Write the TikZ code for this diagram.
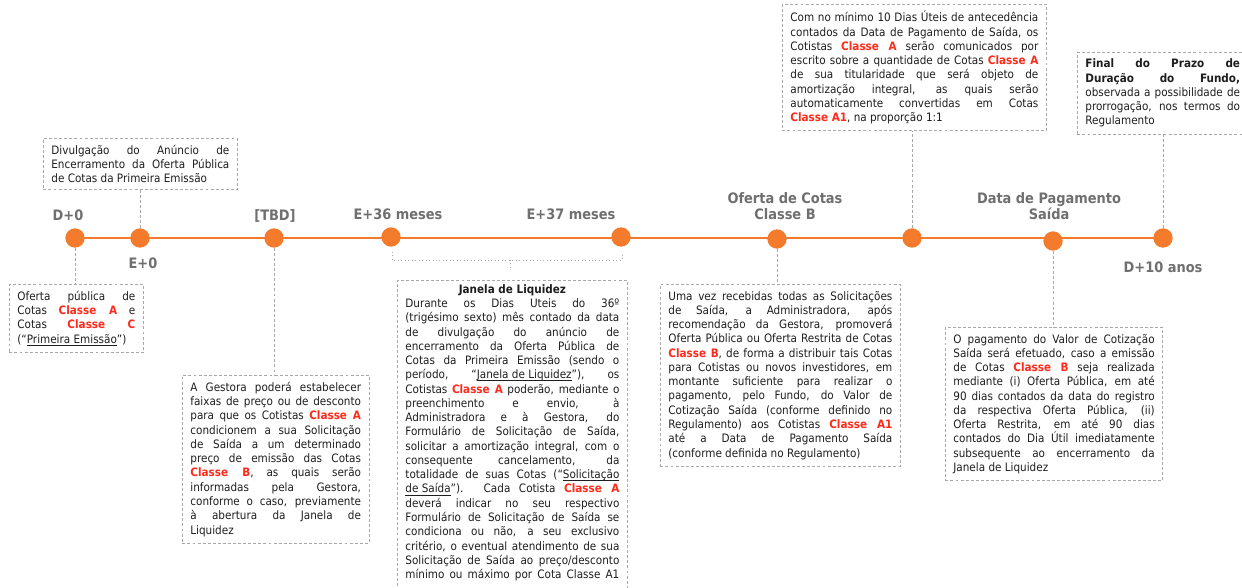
\documentclass[tikz,border=0pt]{standalone}
\usepackage{fontspec}
\setmainfont{DejaVu Sans Condensed}
\definecolor{tlorange}{HTML}{F47A2C}
\definecolor{lblgray}{HTML}{6F6F6F}
\definecolor{boxgray}{HTML}{A8A8A8}
\definecolor{clsred}{HTML}{FF2A1A}
\definecolor{txtdark}{HTML}{1E1E1E}
\newcommand{\cls}[1]{{\color{clsred}\bfseries #1}}
\newcommand{\undl}[1]{\underline{\smash{#1}}}
\tikzset{
  tlline/.style={draw=tlorange, line width=2.2pt},
  tldot/.style={circle, fill=tlorange, inner sep=0pt, minimum size=14.5pt},
  datelbl/.style={font=\fontsize{10.8}{12}\selectfont\bfseries, text=lblgray, align=center},
  infobox/.style={draw=boxgray, dash pattern=on 2.2pt off 1.6pt, line width=0.6pt,
    inner xsep=6pt, inner ysep=5pt, align=justify, text=txtdark,
    font=\fontsize{8.7}{10.7}\selectfont, anchor=north west},
  leader/.style={draw=boxgray, dash pattern=on 2.2pt off 1.6pt, line width=0.6pt},
  bracket/.style={draw=boxgray, dotted, line width=0.6pt}
}
\begin{document}
\begin{tikzpicture}[x=0.75pt,y=-0.75pt]
    \useasboundingbox (0,0) rectangle (1242,588);
    \fill[white] (0,0) rectangle (1242,588);
    % timeline
    \coordinate (tlstart) at (75,238);
    \coordinate (tlend) at (1163,238);
    \draw[tlline] (tlstart) -- (tlend);
    \node[tldot] (d0) at (75,238) {};
    \node[tldot] (e0) at (140,238) {};
    \node[tldot] (tbd) at (274,238) {};
    \node[tldot] (e36) at (391,237) {};
    \node[tldot] (e37) at (621,237) {};
    \node[tldot] (ofb) at (777,239) {};
    \node[tldot] (amort) at (912,238) {};
    \node[tldot] (pgto) at (1053,241) {};
    \node[tldot] (d10) at (1163,238) {};
    % date labels
    \node[datelbl] (ld0) at (68,215) {D+0};
    \node[datelbl] (le0) at (143,263) {E+0};
    \node[datelbl] (ltbd) at (275,216) {[TBD]};
    \node[datelbl] (le36) at (398,214) {E+36 meses};
    \node[datelbl] (le37) at (571,214) {E+37 meses};
    \node[datelbl] (lofb) at (785,206) {Oferta de Cotas\\Classe B};
    \node[datelbl] (lpgto) at (1049,206) {Data de Pagamento\\Saída};
    \node[datelbl] (ld10) at (1163,267) {D+10 anos};
    % boxes above the line
    \node[infobox, text width=133.5pt] (divbox) at (43,138)
      {Divulgação do Anúncio de\linebreak Encerramento da Oferta Pública\linebreak de Cotas da Primeira Emissão};
    \node[infobox, text width=186pt] (cotabox) at (782,4)
      {Com no mínimo 10 Dias Úteis de antecedência\linebreak
       contados da Data de Pagamento de Saída, os\linebreak
       Cotistas \cls{Classe A} serão comunicados por\linebreak
       escrito sobre a quantidade de Cotas \cls{Classe A}\linebreak
       de sua titularidade que será objeto de\linebreak
       amortização integral, as quais serão\linebreak
       automaticamente convertidas em Cotas\linebreak
       \cls{Classe A1}, na proporção 1:1};
    \node[infobox, text width=116pt] (finalbox) at (1077,52)
      {\textbf{Final do Prazo de\linebreak Duração do Fundo,}\linebreak
       observada a possibilidade de\linebreak
       prorrogação, nos termos do\linebreak
       Regulamento};
    % boxes below the line
    \node[infobox, text width=88.5pt] (ofbox) at (9,284)
      {Oferta pública de\linebreak
       Cotas \cls{Classe A} e\linebreak
       Cotas \cls{Classe C}\linebreak
       (“\undl{Primeira Emissão}”)};
    \node[infobox, text width=128pt] (gestbox) at (182,375)
      {A Gestora poderá estabelecer\linebreak
       faixas de preço ou de desconto\linebreak
       para que os Cotistas \cls{Classe A}\linebreak
       condicionem a sua Solicitação\linebreak
       de Saída a um determinado\linebreak
       preço de emissão das Cotas\linebreak
       \cls{Classe B}, as quais serão\linebreak
       informadas pela Gestora,\linebreak
       conforme o caso, previamente\linebreak
       à abertura da Janela de\linebreak
       Liquidez};
    \node[infobox, text width=160.5pt, inner ysep=3pt] (janbox) at (397,280)
      {{\centering\bfseries Janela de Liquidez\par}
       Durante os Dias Uteis do 36º\linebreak
       (trigésimo sexto) mês contado da data\linebreak
       de divulgação do anúncio de\linebreak
       encerramento da Oferta Pública de\linebreak
       Cotas da Primeira Emissão (sendo o\linebreak
       período, “\undl{Janela de Liquidez}”), os\linebreak
       Cotistas \cls{Classe A} poderão, mediante o\linebreak
       preenchimento e envio, à\linebreak
       Administradora e à Gestora, do\linebreak
       Formulário de Solicitação de Saída,\linebreak
       solicitar a amortização integral, com o\linebreak
       consequente cancelamento, da\linebreak
       totalidade de suas Cotas (“\undl{Solicitação}\linebreak
       \undl{de Saída}”). Cada Cotista \cls{Classe A}\linebreak
       deverá indicar no seu respectivo\linebreak
       Formulário de Solicitação de Saída se\linebreak
       condiciona ou não, a seu exclusivo\linebreak
       critério, o eventual atendimento de sua\linebreak
       Solicitação de Saída ao preço/desconto\linebreak
       mínimo ou máximo por Cota Classe A1\linebreak
       \mbox{}};
    \node[infobox, text width=168pt] (umabox) at (660,284)
      {Uma vez recebidas todas as Solicitações\linebreak
       de Saída, a Administradora, após\linebreak
       recomendação da Gestora, promoverá\linebreak
       Oferta Pública ou Oferta Restrita de Cotas\linebreak
       \cls{Classe B}, de forma a distribuir tais Cotas\linebreak
       para Cotistas ou novos investidores, em\linebreak
       montante suficiente para realizar o\linebreak
       pagamento, pelo Fundo, do Valor de\linebreak
       Cotização Saída (conforme definido no\linebreak
       Regulamento) aos Cotistas \cls{Classe A1}\linebreak
       até a Data de Pagamento Saída\linebreak
       (conforme definida no Regulamento)};
    \node[infobox, text width=151pt] (pagbox) at (945,327)
      {O pagamento do Valor de Cotização\linebreak
       Saída será efetuado, caso a emissão\linebreak
       de Cotas \cls{Classe B} seja realizada\linebreak
       mediante (i) Oferta Pública, em até\linebreak
       90 dias contados da data do registro\linebreak
       da respectiva Oferta Pública, (ii)\linebreak
       Oferta Restrita, em até 90 dias\linebreak
       contados do Dia Útil imediatamente\linebreak
       subsequente ao encerramento da\linebreak
       Janela de Liquidez};
    % leaders
    \draw[leader] (e0.north) -- (e0 |- divbox.south);
    \draw[leader] (amort.north) -- (amort |- cotabox.south);
    \draw[leader] (d10.north) -- (d10 |- finalbox.south);
    \draw[leader] (d0.south) -- (d0 |- ofbox.north);
    \draw[leader] (tbd.south) -- (tbd |- gestbox.north);
    \draw[leader] (ofb.south) -- (ofb |- umabox.north);
    \draw[leader] (pgto.south) -- (pgto |- pagbox.north);
    % window bracket
    \coordinate (brl) at (392,252);
    \coordinate (brm) at (510,260);
    \coordinate (brr) at (622,252);
    \coordinate (brt) at (510,268);
    \draw[bracket] (brl) |- (brm) -| (brr);
    \draw[bracket] (brm) -- (brt);
\end{tikzpicture}
\end{document}
